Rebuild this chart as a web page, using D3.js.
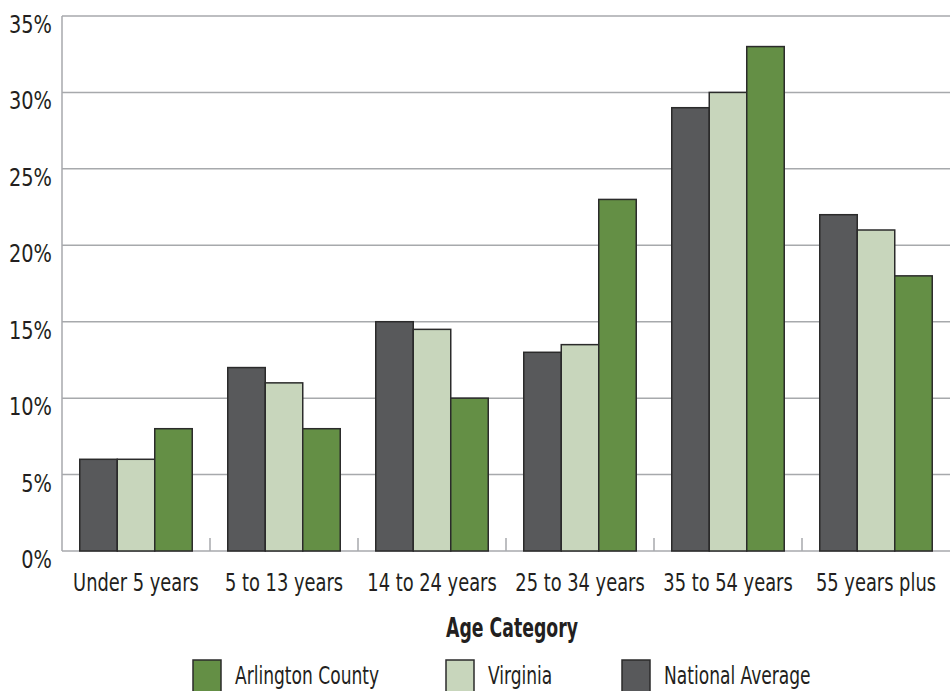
<!DOCTYPE html>
<html>
<head>
<meta charset="utf-8">
<script src="https://cdn.jsdelivr.net/npm/d3@7"></script>
<style>
  body { margin: 0; background: #fff; }
  text { font-family: "DejaVu Sans Condensed", "DejaVu Sans", sans-serif; fill: #231f20; }
</style>
</head>
<body>
<div id="chart"></div>
<script>
// Data
var categories = ["Under 5 years", "5 to 13 years", "14 to 24 years", "25 to 34 years", "35 to 54 years", "55 years plus"];
var nationalAverage = [6, 12, 15, 13, 29, 22];
var virginia = [6, 11, 14.5, 13.5, 30, 21];
var arlingtonCounty = [8, 8, 10, 23, 33, 18];
var yTicks = [0, 5, 10, 15, 20, 25, 30, 35];

var seriesNames = ["National Average", "Virginia", "Arlington County"];
var seriesValues = [nationalAverage, virginia, arlingtonCounty];
var colors = { "Arlington County": "#648f45", "Virginia": "#c8d6bc", "National Average": "#58595b" };
var legendOrder = ["Arlington County", "Virginia", "National Average"];

var svgWidth = 950;
var svgHeight = 691;
var margin = { top: 16, right: 0, bottom: 140, left: 62 };
var width = svgWidth - margin.left - margin.right;
var height = svgHeight - margin.top - margin.bottom;

var svg = d3.select("#chart")
  .append("svg")
  .attr("width", svgWidth)
  .attr("height", svgHeight);

var chartGroup = svg.append("g")
  .attr("transform", `translate(${margin.left}, ${margin.top})`);

// narrow text helper (the original uses a condensed face)
function condensed(sel, x, y, sx) {
  return sel.attr("transform", (d, i) => `translate(${x(d, i)}, ${y(d, i)}) scale(${sx}, 1)`);
}

// Scales
var x0 = d3.scaleBand()
  .domain(categories)
  .range([0, width])
  .paddingInner(0.24)
  .paddingOuter(0.12);

var bandStep = x0.step();

var x1 = d3.scaleBand()
  .domain(seriesNames)
  .range([0, x0.bandwidth()]);

var y = d3.scaleLinear()
  .domain([0, 35])
  .range([height, 0]);

// Gridlines
chartGroup.selectAll(".grid")
  .data(yTicks)
  .enter()
  .append("line")
  .attr("x1", 0)
  .attr("x2", width)
  .attr("y1", d => y(d))
  .attr("y2", d => y(d))
  .attr("stroke", "#a7a9ac")
  .attr("stroke-width", 1.5);

// Left axis line
chartGroup.append("line")
  .attr("x1", 0).attr("x2", 0)
  .attr("y1", 0).attr("y2", height)
  .attr("stroke", "#a7a9ac")
  .attr("stroke-width", 1.5);

// Category separator ticks
chartGroup.selectAll(".sep")
  .data(categories.slice(1))
  .enter()
  .append("line")
  .attr("x1", (d, i) => bandStep * (i + 1))
  .attr("x2", (d, i) => bandStep * (i + 1))
  .attr("y1", height)
  .attr("y2", height - 13)
  .attr("stroke", "#a7a9ac")
  .attr("stroke-width", 1.5);

// Y labels
condensed(chartGroup.selectAll(".ylab")
  .data(yTicks)
  .enter()
  .append("text")
  .attr("text-anchor", "end")
  .style("font-size", "25px")
  .text(d => d + "%"), () => -10, d => y(d) + 17, 0.86);

// Bars
var groups = chartGroup.selectAll(".group")
  .data(categories)
  .enter()
  .append("g")
  .attr("transform", d => `translate(${x0(d)}, 0)`);

groups.selectAll("rect")
  .data((d, i) => seriesNames.map((s, j) => ({ series: s, value: seriesValues[j][i] })))
  .enter()
  .append("rect")
  .attr("x", d => x1(d.series))
  .attr("width", x1.bandwidth())
  .attr("y", d => y(d.value))
  .attr("height", d => height - y(d.value))
  .attr("fill", d => colors[d.series])
  .attr("stroke", "#2b2b2b")
  .attr("stroke-width", 1.5);

// X labels
condensed(chartGroup.selectAll(".xlab")
  .data(categories)
  .enter()
  .append("text")
  .attr("text-anchor", "middle")
  .style("font-size", "24.5px")
  .text(d => d), d => x0(d) + x0.bandwidth() / 2, () => height + 40, 0.81);

// Axis title
condensed(svg.append("text")
  .datum("Age Category")
  .attr("text-anchor", "middle")
  .style("font-size", "26px")
  .style("font-weight", "bold")
  .text(d => d), () => 512, () => 637, 0.74);

// Legend
var legendX = [193, 446, 622];
var legend = svg.selectAll(".legend")
  .data(legendOrder)
  .enter()
  .append("g")
  .attr("transform", (d, i) => `translate(${legendX[i]}, 660)`);

legend.append("rect")
  .attr("width", 28)
  .attr("height", 34)
  .attr("fill", d => colors[d])
  .attr("stroke", "#2b2b2b")
  .attr("stroke-width", 1.5);

condensed(legend.append("text")
  .style("font-size", "25px")
  .text(d => d), () => 42, () => 24, 0.76);
</script>
</body>
</html>
